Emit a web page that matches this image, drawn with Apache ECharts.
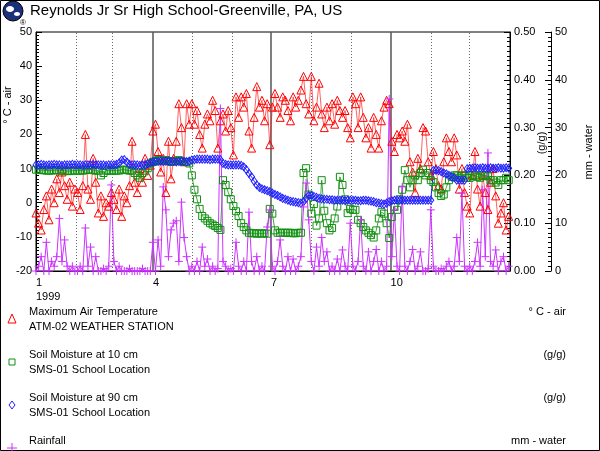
<!DOCTYPE html>
<html>
<head>
<meta charset="utf-8">
<script src="https://cdn.jsdelivr.net/npm/echarts@6/dist/echarts.min.js"></script>
<style>
html, body { margin: 0; padding: 0; background: #fff; }
#main { width: 600px; height: 451px; }
</style>
</head>
<body>
<div id="main"></div>
<script>
// one value every 2 days, day 0 = Jan 1 1999
var dayStep = 2

// max air temperature, deg C
var tempMax = [
  -3, -6, -8, -2, 2, -5, 4, 0, 7, 3, 9, 5, 1, 6, -1, 4,
  3, -2, 5, 20, 4, 1, 13, 6, -3, 2, -4, 0, -1, 3,
  1, -2, 4, -4, 2, 0, 5, 18, 6, 3, 10, 6, 13, 8, 11,
  21, 23, 15, 9, 13, 3, 18, 7, 13, 18, 29, 22, 12, 29, 23,
  29, 23, 27, 20, 16, 23, 26, 24, 30, 27, 16, 24, 26, 21, 27, 22,
  14, 31, 25, 31, 28, 32, 21, 16, 25, 34, 28, 30, 24, 29, 17,
  28, 32, 28, 25, 31, 30, 27, 24, 31, 28, 30, 33, 37, 29, 26,
  37, 24, 28, 35, 26, 22, 28, 24, 29, 23, 30, 27, 25, 27, 22, 19,
  31, 29, 22, 31, 25, 19, 22, 16, 25, 20, 16, 24, 28, 30, 29,
  18, 15, 20, 19, 21, 18, 23, 12, 9, 3, 13, 10, 22, 21, 12,
  8, 15, 10, 5, 4, 12, 19, 15, 12, 19, 14, 4, 10, 3, -1,
  -3, 8, 15, 4, -1, 8, 3, -2, 6, 10, 2, -6, -3, 0, -8, -4
]

// soil moisture at 10 cm, g/g
var soil10 = [
  0.212, 0.212, 0.211, 0.211, 0.21, 0.21, 0.21, 0.211, 0.211, 0.21, 0.21, 0.21, 0.209, 0.209, 0.21, 0.21,
  0.21, 0.21, 0.21, 0.211, 0.212, 0.212, 0.211, 0.21, 0.21, 0.2, 0.205, 0.21, 0.21, 0.21,
  0.21, 0.21, 0.21, 0.212, 0.212, 0.211, 0.21, 0.21, 0.205, 0.2, 0.195, 0.205, 0.21, 0.215, 0.225,
  0.228, 0.23, 0.232, 0.232, 0.23, 0.232, 0.23, 0.228, 0.23, 0.23, 0.232, 0.23, 0.228, 0.228, 0.225,
  0.2, 0.17, 0.15, 0.13, 0.115, 0.11, 0.105, 0.1, 0.097, 0.094, 0.09, 0.086, 0.19, 0.18, 0.165, 0.15,
  0.136, 0.125, 0.115, 0.1, 0.092, 0.085, 0.08, 0.079, 0.079, 0.078, 0.079, 0.078, 0.079, 0.078, 0.13,
  0.12, 0.085, 0.08, 0.08, 0.08, 0.08, 0.08, 0.08, 0.079, 0.079, 0.08, 0.08, 0.205, 0.215, 0.16,
  0.12, 0.14, 0.095, 0.11, 0.19, 0.126, 0.1, 0.085, 0.09, 0.11, 0.135, 0.197, 0.18, 0.15, 0.121, 0.13,
  0.128, 0.128, 0.107, 0.1, 0.092, 0.085, 0.08, 0.075, 0.07, 0.085, 0.11, 0.123, 0.12, 0.1, 0.069,
  0.113, 0.134, 0.128, 0.15, 0.17, 0.211, 0.19, 0.175, 0.19, 0.2, 0.19, 0.205, 0.212, 0.2, 0.205,
  0.19, 0.186, 0.175, 0.163, 0.157, 0.16, 0.175, 0.19, 0.197, 0.2, 0.2, 0.195, 0.2, 0.2, 0.195,
  0.195, 0.2, 0.2, 0.197, 0.195, 0.2, 0.2, 0.198, 0.19, 0.19, 0.185, 0.18, 0.19, 0.19, 0.195, 0.19
]

// soil moisture at 90 cm, g/g
var soil90 = [
  0.222, 0.222, 0.223, 0.222, 0.221, 0.222, 0.222, 0.223, 0.222, 0.222, 0.221, 0.222, 0.222, 0.222, 0.223, 0.222,
  0.222, 0.222, 0.221, 0.222, 0.222, 0.222, 0.223, 0.222, 0.222, 0.222, 0.222, 0.221, 0.222, 0.222,
  0.222, 0.223, 0.226, 0.232, 0.233, 0.228, 0.223, 0.222, 0.222, 0.222, 0.221, 0.222, 0.222, 0.224, 0.226,
  0.228, 0.229, 0.229, 0.23, 0.229, 0.23, 0.23, 0.229, 0.229, 0.228, 0.229, 0.23, 0.229, 0.229, 0.23,
  0.232, 0.233, 0.234, 0.234, 0.234, 0.234, 0.234, 0.233, 0.234, 0.234, 0.234, 0.233, 0.225, 0.223, 0.222, 0.222,
  0.222, 0.222, 0.222, 0.221, 0.218, 0.212, 0.204, 0.197, 0.188, 0.18, 0.175, 0.172, 0.17, 0.168, 0.166,
  0.163, 0.16, 0.158, 0.155, 0.152, 0.15, 0.148, 0.146, 0.145, 0.144, 0.143, 0.142, 0.145, 0.152, 0.158,
  0.158, 0.156, 0.154, 0.152, 0.151, 0.15, 0.15, 0.149, 0.149, 0.148, 0.148, 0.148, 0.148, 0.147, 0.148, 0.148,
  0.148, 0.148, 0.147, 0.147, 0.148, 0.148, 0.147, 0.146, 0.145, 0.143, 0.142, 0.141, 0.14, 0.142, 0.145,
  0.147, 0.148, 0.148, 0.148, 0.148, 0.148, 0.148, 0.148, 0.148, 0.148, 0.148, 0.148, 0.148, 0.148, 0.148,
  0.148, 0.21, 0.211, 0.21, 0.208, 0.205, 0.203, 0.2, 0.197, 0.195, 0.19, 0.19, 0.19, 0.19, 0.214,
  0.215, 0.215, 0.216, 0.215, 0.215, 0.216, 0.215, 0.215, 0.216, 0.215, 0.215, 0.216, 0.215, 0.215, 0.216, 0.215
]

// rainfall, mm
var rainfall = [
  0, 1, 3, 0, 6, 0, 2, 1, 3, 11, 2, 6.5, 1, 0, 1, 0,
  0, 1, 0, 9, 1, 5, 0, 3, 0, 0, 0.5, 0, 1, 18,
  2, 0, 1, 0, 0, 0, 0.5, 0, 0, 0, 0, 0.5, 0, 0, 0,
  6, 0, 6.5, 1, 17.6, 12.8, 3, 8.6, 10, 10.5, 2, 14.4, 7, 3, 0,
  1, 0, 2, 0, 5, 1, 2.5, 0, 1, 0, 0.5, 34, 2, 1, 0, 0.5,
  0, 6, 1, 0, 2, 0, 12.3, 2, 0, 3, 0, 1, 0, 9.2, 12.8,
  1, 0, 2, 6.5, 1, 0, 3, 0, 2.5, 0, 1, 3, 13.4, 18.4, 10.7,
  2, 0, 5, 1, 7, 2, 4, 0, 1, 0, 2.5, 0, 4.4, 1, 0, 10,
  1, 0, 2, 10.7, 1, 0, 4, 0, 2, 4.5, 0, 2, 0, 1, 36,
  3, 12.8, 1, 0, 17.6, 1, 0, 2, 4.5, 0, 1, 4, 0, 0, 0.5,
  12.8, 1, 0, 0, 0.5, 0, 1, 2, 0, 1, 7, 2, 16.3, 1, 0,
  1, 0, 2, 6, 1, 17, 3, 24.7, 2, 1, 4.4, 0, 2, 3, 0, 1
]

// x axis: month starts (day of year)
var quarterDays = [90, 181, 273]
var monthDays = [31, 59, 120, 151, 212, 243, 304, 334]
var tickDays = [0, 90, 181, 273]
var tickLabels = ['1\n1999', '4', '7', '10']

var seriesNames = ['Maximum Air Temperature', 'Soil Moisture at 10 cm', 'Soil Moisture at 90 cm', 'Rainfall']
var seriesSources = ['ATM-02 WEATHER STATION', 'SMS-01 School Location', 'SMS-01 School Location', 'ATM-02 WEATHER STATION']
var seriesUnits = ['\u00b0 C - air', '(g/g)', '(g/g)', 'mm - water']

var FONT = '"Liberation Sans", Arial, Helvetica, sans-serif'

function pairs(arr) {
  return arr.map(function(v, i) {
    return [i * dayStep, v]
  })
}

var myChart = echarts.init(document.getElementById('main'))

function yAxisBase() {
  return {
    type: 'value',
    axisLine: { show: true, lineStyle: { color: '#000', width: 1 } },
    axisTick: { show: true, inside: true, length: 6, lineStyle: { color: '#000' } },
    minorTick: { show: true, splitNumber: 10, length: 3, lineStyle: { color: '#000' } },
    splitLine: { show: false },
    axisLabel: { color: '#000', fontSize: 11, fontFamily: FONT, margin: 4 }
  }
}

var yTemp = yAxisBase()
yTemp.min = -20
yTemp.max = 50
yTemp.interval = 10
yTemp.position = 'left'

var yMoist = yAxisBase()
yMoist.min = 0
yMoist.max = 0.5
yMoist.interval = 0.1
yMoist.position = 'right'
yMoist.axisLabel.formatter = function(v) { return v.toFixed(2) }

var yRain = yAxisBase()
yRain.min = 0
yRain.max = 50
yRain.interval = 10
yRain.position = 'right'
yRain.offset = 41

// legend rows drawn by hand (layout of the original plot)
var legendTop = [312, 355, 398, 441]
var legendGraphics = []
seriesNames.forEach(function(name, i) {
  var y = legendTop[i]
  legendGraphics.push({
    type: 'text', x: 29, y: y,
    style: { text: name, fill: '#000', font: '11px ' + FONT, verticalAlign: 'middle' }
  })
  legendGraphics.push({
    type: 'text', x: 29, y: y + 15,
    style: { text: seriesSources[i], fill: '#000', font: '11px ' + FONT, verticalAlign: 'middle' }
  })
  legendGraphics.push({
    type: 'text', x: 566, y: y,
    style: { text: seriesUnits[i], fill: '#000', font: '11px ' + FONT, align: 'right', verticalAlign: 'middle' }
  })
})
var my = legendTop.map(function(y) { return y + 7 })
legendGraphics.push(
  { type: 'polygon', shape: { points: [[12, my[0] - 5], [16, my[0] + 4], [8, my[0] + 4]] }, style: { fill: 'none', stroke: '#ff0000' } },
  { type: 'rect', shape: { x: 9, y: my[1] - 3, width: 6, height: 6 }, style: { fill: 'none', stroke: '#109010' } },
  { type: 'polygon', shape: { points: [[12, my[2] - 4], [15, my[2]], [12, my[2] + 4], [9, my[2]]] }, style: { fill: 'none', stroke: '#2020ff' } },
  { type: 'line', shape: { x1: 7, y1: my[3], x2: 17, y2: my[3] }, style: { stroke: '#cc33ff' } },
  { type: 'line', shape: { x1: 12, y1: my[3] - 5, x2: 12, y2: my[3] + 5 }, style: { stroke: '#cc33ff' } }
)

var markLineData = quarterDays.map(function(d) {
  return { xAxis: d, lineStyle: { color: '#555', type: 'solid', width: 1.5 } }
}).concat(monthDays.map(function(d) {
  return { xAxis: d, lineStyle: { color: '#666', type: [1, 2], width: 1 } }
}))

var option = {
  animation: false,
  backgroundColor: '#fff',
  textStyle: { fontFamily: FONT },
  grid: { left: 36, right: 90, top: 32, bottom: 180, show: true, borderColor: '#000', borderWidth: 1 },
  xAxis: {
    type: 'value',
    min: 0,
    max: 365,
    axisLine: { onZero: false, lineStyle: { color: '#000', width: 1 } },
    axisTick: { show: false },
    splitLine: { show: false },
    axisLabel: {
      customValues: tickDays,
      formatter: function(v) {
        var k = tickDays.indexOf(v)
        return k >= 0 ? tickLabels[k] : ''
      },
      align: 'left',
      color: '#000',
      fontSize: 11,
      fontFamily: FONT,
      lineHeight: 14,
      margin: 5
    }
  },
  yAxis: [yTemp, yMoist, yRain],
  graphic: [
    { type: 'rect', shape: { x: 0.5, y: 0.5, width: 599, height: 450 }, style: { fill: 'none', stroke: '#000' } },
    // logo
    { type: 'circle', shape: { cx: 13, cy: 11, r: 10 }, style: { fill: '#1c2f7a', stroke: '#000' } },
    { type: 'ellipse', shape: { cx: 10, cy: 9, rx: 4, ry: 3 }, style: { fill: '#fff' } },
    { type: 'ellipse', shape: { cx: 17, cy: 14, rx: 3, ry: 2 }, style: { fill: '#fff' } },
    { type: 'text', x: 20, y: 19, style: { text: '\u00ae', fill: '#000', font: '8px ' + FONT } },
    // title
    { type: 'text', x: 30, y: 3, style: { text: 'Reynolds Jr Sr High School-Greenville, PA, US', fill: '#000', font: '15px ' + FONT } },
    // axis names
    { type: 'text', x: 8, y: 105, rotation: Math.PI / 2, style: { text: '\u00b0 C - air', fill: '#000', font: '11px ' + FONT, align: 'center', verticalAlign: 'middle' } },
    { type: 'text', x: 542, y: 143, rotation: Math.PI / 2, style: { text: '(g/g)', fill: '#000', font: '11px ' + FONT, align: 'center', verticalAlign: 'middle' } },
    { type: 'text', x: 589, y: 152, rotation: Math.PI / 2, style: { text: 'mm - water', fill: '#000', font: '11px ' + FONT, align: 'center', verticalAlign: 'middle' } }
  ].concat(legendGraphics),
  series: [
    {
      name: seriesNames[0],
      type: 'line',
      yAxisIndex: 0,
      data: pairs(tempMax),
      symbol: 'triangle',
      symbolSize: 8,
      showAllSymbol: true,
      itemStyle: { color: 'rgba(0,0,0,0)', borderColor: '#ff0000', borderWidth: 1 },
      lineStyle: { color: '#ff2020', width: 1, opacity: 0.7 },
      emphasis: { disabled: true },
      markLine: {
        silent: true,
        z: 1,
        symbol: ['none', 'none'],
        label: { show: false },
        data: markLineData
      }
    },
    {
      name: seriesNames[1],
      type: 'line',
      yAxisIndex: 1,
      data: pairs(soil10),
      symbol: 'rect',
      symbolSize: 7,
      showAllSymbol: true,
      itemStyle: { color: 'rgba(0,0,0,0)', borderColor: '#109010', borderWidth: 1 },
      lineStyle: { color: '#109010', width: 1, opacity: 0.8 },
      emphasis: { disabled: true }
    },
    {
      name: seriesNames[2],
      type: 'line',
      yAxisIndex: 1,
      data: pairs(soil90),
      symbol: 'diamond',
      symbolSize: [6, 8],
      showAllSymbol: true,
      itemStyle: { color: 'rgba(0,0,0,0)', borderColor: '#2020ff', borderWidth: 1 },
      lineStyle: { color: '#2020ff', width: 1 },
      emphasis: { disabled: true }
    },
    {
      name: seriesNames[3],
      type: 'line',
      yAxisIndex: 2,
      data: pairs(rainfall),
      symbol: 'path://M5,0L5,10M0,5L10,5',
      symbolSize: 8,
      showAllSymbol: true,
      itemStyle: { color: 'rgba(0,0,0,0)', borderColor: '#cc33ff', borderWidth: 1 },
      lineStyle: { color: '#cc33ff', width: 1 },
      emphasis: { disabled: true }
    }
  ]
}

myChart.setOption(option)
</script>
</body>
</html>
